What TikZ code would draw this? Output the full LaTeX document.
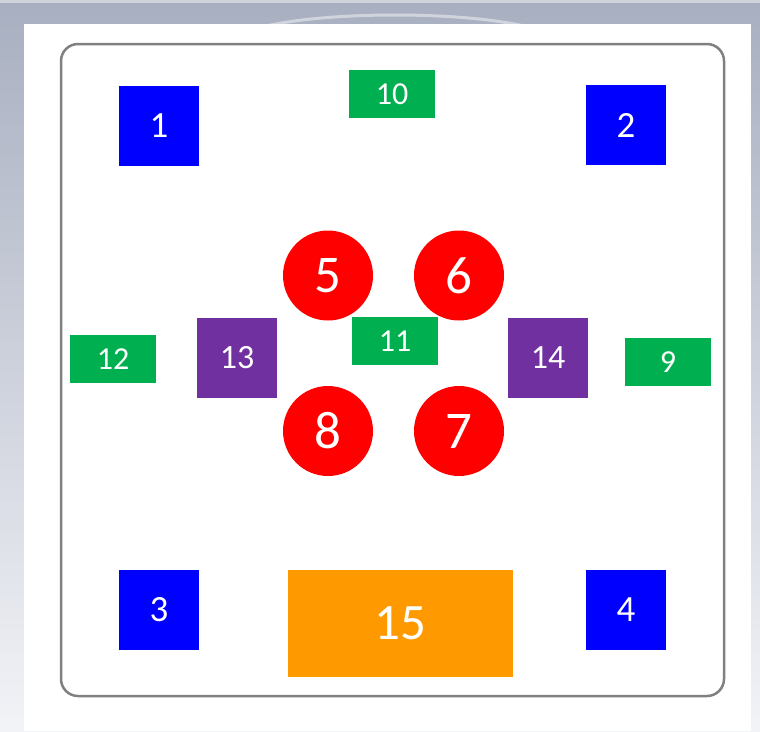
\documentclass[tikz,border=0pt]{standalone}
\usepackage{fontspec}
\setmainfont{Carlito}
\usetikzlibrary{shapes.geometric}
\definecolor{bgtop}{RGB}{168,175,192}
\definecolor{bgbot}{RGB}{242,243,247}
\definecolor{bordergray}{RGB}{128,128,128}
\definecolor{sqblue}{RGB}{0,0,255}
\definecolor{sqgreen}{RGB}{0,176,80}
\definecolor{sqpurple}{RGB}{112,48,160}
\definecolor{sqred}{RGB}{255,0,0}
\definecolor{sqorange}{RGB}{255,153,0}
\tikzset{
  box/.style={rectangle, inner sep=0pt, outer sep=0pt, text=white, anchor=center},
  bluebox/.style={box, fill=sqblue, minimum width=80pt, minimum height=80pt, font=\fontsize{37}{39}\selectfont},
  greenbox/.style={box, fill=sqgreen, minimum width=86pt, minimum height=48pt, font=\fontsize{32}{34}\selectfont},
  purplebox/.style={box, fill=sqpurple, minimum width=80pt, minimum height=80pt, font=\fontsize{34}{36}\selectfont},
  redcircle/.style={circle, inner sep=0pt, outer sep=0pt, fill=sqred, text=white, minimum size=90pt, font=\fontsize{53}{55}\selectfont},
  orangebox/.style={box, fill=sqorange, minimum width=225pt, minimum height=107pt, font=\fontsize{51}{53}\selectfont},
  frame/.style={draw=bordergray, line width=2.5pt, rounded corners=17pt}
}
\begin{document}
\begin{tikzpicture}[x=1pt,y=-1pt]
\useasboundingbox (0,0) rectangle (760,731);
% background
\shade[top color=bgtop, bottom color=bgbot] (0,0) rectangle (760,731);
\fill[white, opacity=0.45] (0,0) rectangle (760,3);
\begin{scope}
\clip (24,8) rectangle (751,24);
\draw[white, opacity=0.45, line width=3pt] (395,42) ellipse (160pt and 27pt);
\end{scope}
\fill[white] (24,24) rectangle (751,731);
% frame
\draw[frame] (61,44) rectangle (724,696);
% blue squares
\node[bluebox] (n1) at (159,126) {1};
\node[bluebox] (n2) at (626,125) {2};
\node[bluebox] (n3) at (159,610) {3};
\node[bluebox] (n4) at (626,610) {4};
% green boxes
\node[greenbox] (n10) at (392,94) {10};
\node[greenbox] (n12) at (113,359) {12};
\node[greenbox] (n11) at (395,341) {11};
\node[greenbox] (n9) at (668,362) {9};
% purple boxes
\node[purplebox] (n13) at (237,358) {13};
\node[purplebox] (n14) at (548,358) {14};
% red circles
\node[redcircle] (n5) at (328,275.5) {5};
\node[redcircle] (n6) at (459,275.5) {6};
\node[redcircle] (n8) at (328,431) {8};
\node[redcircle] (n7) at (459,431) {7};
% orange box
\node[orangebox] (n15) at (400.5,623.5) {15};
\end{tikzpicture}
\end{document}
